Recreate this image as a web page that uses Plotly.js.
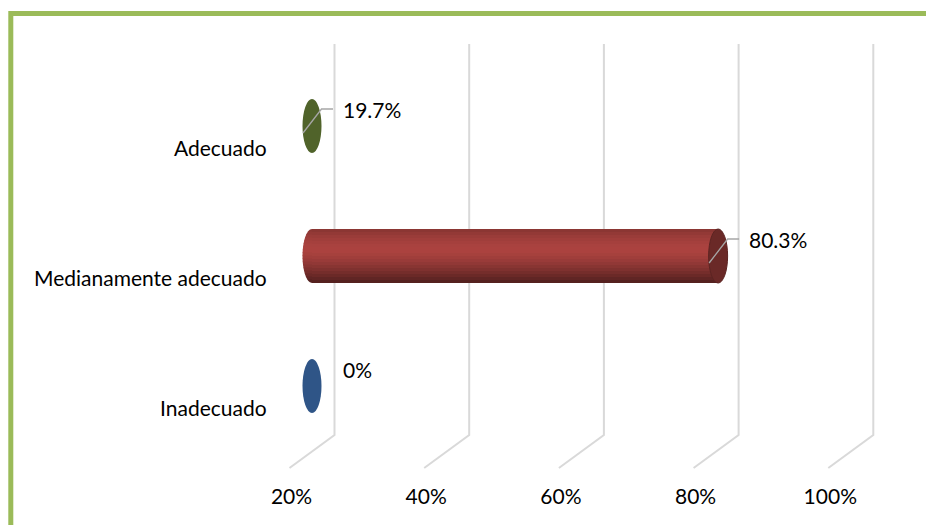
<!DOCTYPE html>
<html><head><meta charset="utf-8">
<script src="https://cdn.plot.ly/plotly-3.0.1.min.js"></script>
<style>html,body{margin:0;padding:0;background:#fff;}#chart{width:926px;height:525px;}</style>
</head><body><div id="chart"></div>
<script>
// ---- data ----
const categories = ["Inadecuado", "Medianamente adecuado", "Adecuado"];
const values = [0, 80.3, 19.7];
const valueLabels = ["0%", "80.3%", "19.7%"];
const tickValues = [20, 40, 60, 80, 100];
const tickLabels = ["20%", "40%", "60%", "80%", "100%"];
const barColors = ["#2F5587", "#A5403D", "#50632A"];

// ---- geometry / style (pixel-based helpers) ----
const AXIS_MIN = 20;
const PX_X = 6.735;          // px per percentage point
const PX_Y = 130;            // px per category step
const ORIGIN_X = 312;        // px of AXIS_MIN on the bar plane
const ORIGIN_Y = 386;        // px of first category
const W = 926, H = 525;
const xRange = [AXIS_MIN - ORIGIN_X / PX_X, AXIS_MIN + (W - ORIGIN_X) / PX_X];
const yRange = [-(H - ORIGIN_Y) / PX_Y, ORIGIN_Y / PX_Y];
const ux = px => px / PX_X;
const uy = px => px / PX_Y;
const DEPTH = ux(22.5);
const BAR_H = uy(54);
const CAP_W = ux(19);
const idx = categories.map((_, i) => i);
const clamped = values.map(v => Math.max(v, AXIS_MIN));
const FONT = {family: "Lato, 'Liberation Sans', Arial, sans-serif", size: 21, color: "#000"};

function hexToRgb(h){h=h.replace('#','');return [0,2,4].map(k=>parseInt(h.substr(k,2),16));}
function shade(hex,f){const c=hexToRgb(hex).map(v=>Math.max(0,Math.min(255,Math.round(v*f))));return `rgb(${c[0]},${c[1]},${c[2]})`;}

const traces = [];
const shapes = [];

// gridlines (back wall + floor diagonals), drawn beneath the bars
const yTop = uy(ORIGIN_Y - 44), yBack = -uy(435 - ORIGIN_Y), yFront = -uy(468 - ORIGIN_Y);
tickValues.forEach(t => {
  shapes.push({type:'path', xref:'x', yref:'y', layer:'below',
    path:`M ${t + DEPTH} ${yTop} L ${t + DEPTH} ${yBack} L ${t - DEPTH} ${yFront}`,
    line:{color:'#D9D9D9', width:2}});
});

// cylinder body as shaded horizontal bands (bar traces)
const N = 18;
const bandH = BAR_H / N;
function profile(t){ // t: 0 top .. 1 bottom
  if (t < 0.40) return 0.82 + (1.04 - 0.82) * Math.sin((t / 0.40) * Math.PI / 2);
  const s = (t - 0.40) / 0.60;
  return 1.04 - (1.04 - 0.48) * Math.pow(s, 1.35);
}
for (let j = 0; j < N; j++) {
  const f = profile((j + 0.5) / N);
  traces.push({
    type:'bar', orientation:'h',
    y: idx, x: clamped.map(v => v - AXIS_MIN), base: AXIS_MIN,
    width: BAR_H - j * bandH, offset: -BAR_H / 2,
    marker:{color: barColors.map(c => shade(c, f)), line:{width:0}},
    hoverinfo:'skip', showlegend:false
  });
  // matching slice of the rounded start of each cylinder
  values.forEach((v, i) => {
    if (v <= AXIS_MIN) return;
    const yHi = BAR_H/2 - j * bandH + (j > 0 ? bandH * 0.15 : 0);
    const yLo = BAR_H/2 - (j + 1) * bandH;
    const b = BAR_H/2, a = CAP_W/2;
    const pts = [];
    const K = 5;
    for (let k = 0; k <= K; k++) {
      const yy = yHi + (yLo - yHi) * k / K;
      const r = Math.max(0, 1 - (yy / b) * (yy / b));
      pts.push([AXIS_MIN - a * Math.sqrt(r), i + yy]);
    }
    let p = `M ${AXIS_MIN + ux(1)} ${i + yHi}`;
    pts.forEach(q => { p += ` L ${q[0]} ${q[1]}`; });
    p += ` L ${AXIS_MIN + ux(1)} ${i + yLo} Z`;
    shapes.push({type:'path', xref:'x', yref:'y', layer:'below', path:p,
      fillcolor: shade(barColors[i], f), line:{width:0}});
  });
}

// tick labels on the front edge of the floor
traces.push({type:'scatter', mode:'text', x: tickValues.map(t => t - DEPTH + ux(2)), y: tickValues.map(() => -uy(499 - ORIGIN_Y)),
  text: tickLabels, textposition:'middle center', textfont: FONT, hoverinfo:'skip', showlegend:false, cliponaxis:false});

// border
shapes.push({type:'path', xref:'paper', yref:'paper',
  path:`M ${10.8/W} 0 L ${10.8/W} ${1 - 13.5/H} L 1 ${1 - 13.5/H}`,
  line:{color:'#9BBB59', width:5}, layer:'above'});

// end faces / disks
values.forEach((v, i) => {
  const c = clamped[i];
  if (v > AXIS_MIN) {
    shapes.push({type:'circle', xref:'x', yref:'y', layer:'above',
      x0: c - CAP_W/2, x1: c + CAP_W/2, y0: i - BAR_H/2, y1: i + BAR_H/2,
      fillcolor: shade(barColors[i], 0.64), line:{color: shade(barColors[i], 0.56), width:1}});
  } else {
    shapes.push({type:'circle', xref:'x', yref:'y', layer:'above',
      x0: c - CAP_W/2, x1: c + CAP_W/2, y0: i - BAR_H/2, y1: i + BAR_H/2,
      fillcolor: barColors[i], line:{width:0}});
  }
});

// leader lines (drawn over the end faces)
values.forEach((v, i) => {
  if (v <= 0) return;
  const c = clamped[i];
  shapes.push({type:'path', xref:'x', yref:'y', layer:'above',
    path:`M ${c - ux(9)} ${i - uy(7)} L ${c + ux(9.5)} ${i + uy(17)} L ${c + ux(21)} ${i + uy(17)}`,
    line:{color:'#A6A6A6', width:1.3}});
});

// annotations: category labels and value labels
const annotations = [];
categories.forEach((cat, i) => {
  annotations.push({text: cat, xref:'paper', yref:'y', x: 269/W, y: i, yshift: -21,
    xanchor:'right', yanchor:'middle', showarrow:false, font: FONT});
});
valueLabels.forEach((lab, i) => {
  annotations.push({text: lab, xref:'x', yref:'y', x: clamped[i] + ux(29), y: i + uy(17),
    xanchor:'left', yanchor:'middle', showarrow:false, font: FONT});
});

const layout = {
  width: W, height: H,
  margin:{l:0, r:0, t:0, b:0, pad:0},
  paper_bgcolor:'#ffffff', plot_bgcolor:'#ffffff',
  barmode:'overlay', bargap:0,
  showlegend:false, hovermode:false,
  xaxis:{range:xRange, domain:[0,1], showgrid:false, zeroline:false, showticklabels:false, showline:false, ticks:'', fixedrange:true},
  yaxis:{range:yRange, domain:[0,1], showgrid:false, zeroline:false, showticklabels:false, showline:false, ticks:'', fixedrange:true},
  shapes, annotations,
  font: FONT
};

Plotly.newPlot('chart', traces, layout, {staticPlot:true, displayModeBar:false});
</script>
</body></html>
